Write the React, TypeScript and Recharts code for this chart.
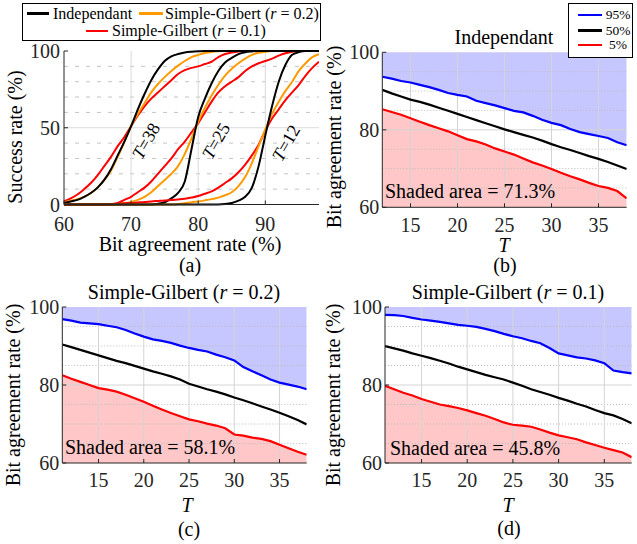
import React from "react";
import {
  ComposedChart,
  Line,
  Area,
  XAxis,
  YAxis,
  ReferenceLine,
} from "recharts";

const FONT = '"Liberation Serif", "DejaVu Serif", serif';
const INK = "#262626";
const BLUE = "#0000ff";
const RED = "#ff0000";
const ORANGE = "#ff9a00";

// ---- (a) success rate vs bit agreement rate ----
const rateX = [
  60, 61, 62, 63, 64, 65, 66, 67, 68, 69, 70, 71, 72, 73, 74, 75, 76, 77, 78, 79,
  80, 81, 82, 83, 84, 85, 86, 87, 88, 89, 90, 91, 92, 93, 94, 95, 96, 97, 98,
];
// T = 38
const ind38 = [1, 2, 3, 5, 7.5, 11, 16, 23, 32, 41, 51, 62, 72, 81, 88, 93.5, 96.5, 98, 99, 99.5, 99.8, 100, 100, 100, 100, 100, 100, 100, 100, 100, 100, 100, 100, 100, 100, 100, 100, 100, 100];
const sg2_38 = [1.5, 2.5, 3.5, 5, 7.5, 11, 16, 22, 31, 41, 51, 59, 66, 73, 78.5, 83, 87, 90.5, 93.5, 96, 97.5, 98.7, 99.4, 99.8, 100, 100, 100, 100, 100, 100, 100, 100, 100, 100, 100, 100, 100, 100, 100];
const sg1_38 = [2, 4, 6.5, 10, 14, 19, 25, 31, 38, 44, 51, 58, 64, 69, 73, 77, 81, 85, 87.5, 89, 90, 91.5, 93, 96, 98, 99, 99.7, 100, 100, 100, 100, 100, 100, 100, 100, 100, 100, 100, 100];
// T = 25
const ind25 = [0, 0, 0, 0, 0, 0, 0, 0, 0, 0, 0, 0, 0, 0, 0.5, 1.5, 4, 7.5, 15, 36, 57, 69, 79, 87, 92.5, 95.5, 98, 99.2, 99.7, 100, 100, 100, 100, 100, 100, 100, 100, 100, 100];
const sg2_25 = [0, 0, 0, 0, 0, 0, 0, 0, 0.3, 0.8, 1.7, 3, 5, 8, 12, 16, 20, 25, 33, 43, 54, 63, 71, 78, 84, 88.5, 92, 95, 97.5, 98.8, 99.5, 100, 100, 100, 100, 100, 100, 100, 100];
const sg1_25 = [0, 0, 0, 0, 0, 0, 0, 0.3, 1, 3, 5, 8, 11, 15, 20, 25, 30, 36, 41, 47, 53, 60, 67, 73, 77, 80, 83, 87, 90, 92, 93.5, 95, 97, 98.5, 99.5, 100, 100, 100, 100];
// T = 12
const ind12 = [0, 0, 0, 0, 0, 0, 0, 0, 0, 0, 0, 0, 0, 0, 0, 0, 0, 0, 0, 0, 0, 0, 0, 0, 0.3, 1, 2.5, 5, 11, 25, 45, 64, 80, 91, 97.5, 99.3, 100, 100, 100];
const sg2_12 = [0, 0, 0, 0, 0, 0, 0, 0, 0, 0, 0, 0, 0, 0, 0, 0, 0, 0.3, 0.8, 1.5, 2, 2.7, 3.5, 4.5, 6, 8, 12, 18, 27, 38, 49, 59, 67, 74, 80, 87, 92, 96, 98];
const sg1_12 = [0, 0, 0, 0, 0, 0, 0, 0, 0.5, 0.8, 1, 1.3, 1.6, 2, 2.3, 2.6, 3, 3.3, 3.7, 4.5, 5.5, 7, 8.5, 11, 14, 17, 21, 26, 32, 39, 48, 56, 62, 68, 73, 78, 84, 89, 93];

// ---- (b) Independant, T = 12..38 ----
const indT = [12, 13, 14, 15, 16, 17, 18, 19, 20, 21, 22, 23, 24, 25, 26, 27, 28, 29, 30, 31, 32, 33, 34, 35, 36, 37, 38];
const indP95 = [93.7, 93.2, 92.6, 92.2, 91.6, 91.0, 90.3, 89.5, 89.0, 88.6, 87.5, 86.9, 86.3, 85.6, 84.9, 84.5, 83.6, 82.6, 81.8, 81.2, 80.2, 79.4, 78.9, 78.4, 77.9, 76.8, 76.0];
const indP50 = [90.3, 89.4, 88.6, 87.8, 87.2, 86.5, 85.7, 84.9, 84.1, 83.3, 82.5, 81.7, 80.9, 80.1, 79.4, 78.7, 78.0, 77.2, 76.3, 75.5, 74.8, 74.0, 73.2, 72.5, 71.7, 70.8, 69.9];
const indP5 = [85.3, 84.6, 83.9, 83.0, 82.1, 81.2, 80.4, 79.6, 78.6, 77.6, 77.0, 76.2, 75.2, 74.4, 73.6, 72.6, 71.6, 70.8, 69.9, 68.9, 68.0, 67.2, 66.3, 65.5, 65.0, 64.2, 62.3];

// ---- (c), (d) Simple-Gilbert, T = 11..38 ----
const sgT = [11, 12, 13, 14, 15, 16, 17, 18, 19, 20, 21, 22, 23, 24, 25, 26, 27, 28, 29, 30, 31, 32, 33, 34, 35, 36, 37, 38];
const sg2P95 = [96.9, 96.5, 96.0, 95.8, 95.6, 95.2, 94.8, 94.1, 93.2, 92.4, 91.7, 91.3, 90.8, 90.1, 89.5, 89.0, 88.6, 87.8, 87.1, 86.3, 84.6, 83.5, 82.5, 81.4, 80.6, 80.1, 79.6, 78.9];
const sg2P50 = [90.4, 89.7, 89.0, 88.3, 87.6, 86.9, 86.2, 85.6, 84.9, 84.2, 83.5, 82.9, 82.2, 81.4, 80.3, 79.6, 78.9, 78.3, 77.6, 76.8, 76.1, 75.3, 74.5, 73.7, 72.9, 72.0, 71.0, 69.9];
const sg2P5 = [82.5, 81.6, 80.8, 80.0, 79.2, 78.8, 78.3, 77.5, 76.6, 75.7, 74.7, 73.7, 72.8, 72.0, 71.2, 70.7, 70.1, 69.6, 68.9, 67.3, 67.0, 66.5, 66.2, 65.6, 64.7, 63.8, 62.9, 62.1];
const sg1P95 = [98.0, 97.9, 97.7, 97.2, 96.8, 96.5, 96.2, 95.8, 95.4, 95.2, 94.9, 94.4, 93.8, 93.1, 92.5, 92.0, 91.3, 90.7, 89.5, 88.1, 87.6, 87.1, 86.8, 86.3, 85.6, 83.7, 83.3, 83.0];
const sg1P50 = [90.0, 89.4, 88.8, 88.1, 87.5, 86.9, 86.2, 85.5, 84.7, 84.0, 83.3, 82.6, 82.0, 81.4, 80.6, 79.8, 78.9, 78.2, 77.5, 76.7, 76.0, 75.2, 74.5, 73.6, 72.8, 72.2, 71.3, 70.2];
const sg1P5 = [79.8, 78.9, 78.0, 77.3, 76.4, 75.7, 75.0, 74.6, 74.1, 73.5, 72.8, 72.1, 71.3, 70.4, 69.8, 69.6, 69.3, 68.6, 67.8, 67.1, 66.6, 66.1, 65.3, 64.6, 63.9, 63.3, 62.7, 61.5];

const tickStyle = { fontSize: 20, fill: INK, fontFamily: FONT };

// simple absolutely placed text, centred on (x, y) unless align="left"
function Txt({ x, y, size = 20, rotate = 0, align = "center", children }: any) {
  const tx = align === "left" ? "0" : "-50%";
  return (
    <div
      style={{
        position: "absolute",
        left: x,
        top: y,
        transform: `translate(${tx}, -50%) rotate(${rotate}deg)`,
        fontFamily: FONT,
        fontSize: size,
        color: "#000",
        whiteSpace: "nowrap",
        lineHeight: 1,
      }}
    >
      {children}
    </div>
  );
}

function Swatch({ x, y, w, color }: any) {
  return (
    <div
      style={{
        position: "absolute",
        left: x,
        top: y - 1.25,
        width: w,
        height: 2.5,
        background: color,
      }}
    />
  );
}

function SuccessPanel() {
  const data = rateX.map((x, i) => ({
    x,
    ind38: ind38[i],
    sg2_38: sg2_38[i],
    sg1_38: sg1_38[i],
    ind25: ind25[i],
    sg2_25: sg2_25[i],
    sg1_25: sg1_25[i],
    ind12: ind12[i],
    sg2_12: sg2_12[i],
    sg1_12: sg1_12[i],
  }));
  const series = [
    ["sg1_38", RED], ["sg2_38", ORANGE], ["ind38", "#000"],
    ["sg1_25", RED], ["sg2_25", ORANGE], ["ind25", "#000"],
    ["sg1_12", RED], ["sg2_12", ORANGE], ["ind12", "#000"],
  ];
  return (
    <div style={{ position: "absolute", left: 0, top: 0 }}>
      <ComposedChart
        width={330}
        height={260}
        data={data}
        margin={{ top: 51, right: 11, left: 0, bottom: 25.5 }}
      >
        <XAxis
          dataKey="x"
          type="number"
          domain={[60, 98]}
          ticks={[60, 70, 80, 90]}
          height={30}
          tick={tickStyle}
          tickSize={-4}
          tickMargin={16}
          stroke={INK}
          allowDataOverflow
        />
        <XAxis
          xAxisId="top"
          orientation="top"
          type="number"
          domain={[60, 98]}
          ticks={[60, 70, 80, 90]}
          height={0}
          tickSize={-4}
          tickFormatter={() => ""}
          stroke={INK}
          allowDataOverflow
        />
        <YAxis
          type="number"
          domain={[0, 100]}
          ticks={[0, 50, 100]}
          width={64}
          tick={tickStyle}
          tickSize={-4}
          tickMargin={8}
          stroke={INK}
        />
        <YAxis
          yAxisId="right"
          orientation="right"
          type="number"
          domain={[0, 100]}
          ticks={[0, 50, 100]}
          width={0}
          tickSize={-4}
          tickFormatter={() => ""}
          stroke={INK}
        />
        {[10, 20, 30, 40, 60, 70, 80, 90].map((v) => (
          <ReferenceLine key={"m" + v} y={v} stroke="#c4c4c4" strokeDasharray="4 7" />
        ))}
        {[70, 80, 90].map((v) => (
          <ReferenceLine key={"x" + v} x={v} stroke="#dadada" />
        ))}
        <ReferenceLine y={50} stroke="#dadada" />
        {series.map(([key, color]) => (
          <Line
            key={key}
            dataKey={key}
            type="monotone"
            stroke={color}
            strokeWidth={2}
            dot={false}
            activeDot={false}
            isAnimationActive={false}
          />
        ))}
      </ComposedChart>
    </div>
  );
}

function PercentilePanel({ left, top, width, height, margin, yWidth, T, p95, p50, p5, xMin }: any) {
  const data = T.map((t: number, i: number) => ({ T: t, p95: p95[i], p50: p50[i], p5: p5[i] }));
  const xTicks = [15, 20, 25, 30, 35];
  return (
    <div style={{ position: "absolute", left, top }}>
      <ComposedChart width={width} height={height} data={data} margin={margin}>
        <XAxis
          dataKey="T"
          type="number"
          domain={[xMin, 38]}
          ticks={xTicks}
          height={30}
          tick={tickStyle}
          tickSize={-4}
          tickMargin={14}
          stroke={INK}
          allowDataOverflow
        />
        <XAxis
          xAxisId="top"
          orientation="top"
          type="number"
          domain={[xMin, 38]}
          ticks={xTicks}
          height={0}
          tickSize={-4}
          tickFormatter={() => ""}
          stroke={INK}
          allowDataOverflow
        />
        <YAxis
          type="number"
          domain={[60, 100]}
          ticks={[60, 80, 100]}
          width={yWidth}
          tick={tickStyle}
          tickSize={-4}
          tickMargin={7}
          stroke={INK}
        />
        <YAxis
          yAxisId="right"
          orientation="right"
          type="number"
          domain={[60, 100]}
          ticks={[60, 80, 100]}
          width={0}
          tickSize={-4}
          tickFormatter={() => ""}
          stroke={INK}
        />
        <Area
          dataKey={(d: any) => [d.p95, 100]}
          type="linear"
          stroke="none"
          fill={BLUE}
          fillOpacity={0.22}
          isAnimationActive={false}
        />
        <Area
          dataKey={(d: any) => [60, d.p5]}
          type="linear"
          stroke="none"
          fill={RED}
          fillOpacity={0.22}
          isAnimationActive={false}
        />
        {[65, 70, 75, 85, 90, 95].map((v) => (
          <ReferenceLine key={"m" + v} y={v} stroke="#bcbcbc" strokeDasharray="1 2" />
        ))}
        {xTicks.map((v) => (
          <ReferenceLine key={"x" + v} x={v} stroke="#d4d4d4" />
        ))}
        <ReferenceLine y={80} stroke="#d4d4d4" />
        <Line dataKey="p95" type="linear" stroke={BLUE} strokeWidth={2.2} dot={false} activeDot={false} isAnimationActive={false} />
        <Line dataKey="p50" type="linear" stroke="#000" strokeWidth={2.2} dot={false} activeDot={false} isAnimationActive={false} />
        <Line dataKey="p5" type="linear" stroke={RED} strokeWidth={2.2} dot={false} activeDot={false} isAnimationActive={false} />
      </ComposedChart>
    </div>
  );
}

export default function App() {
  return (
    <div
      style={{
        position: "absolute",
        left: 0,
        top: 0,
        width: 637,
        height: 544,
        background: "#fff",
        overflow: "hidden",
        fontFamily: FONT,
      }}
    >
      <SuccessPanel />
      <PercentilePanel
        left={320}
        top={0}
        width={317}
        height={260}
        margin={{ top: 52.3, right: 10.3, left: 0, bottom: 22.7 }}
        yWidth={62.3}
        T={indT}
        p95={indP95}
        p50={indP50}
        p5={indP5}
        xMin={12}
      />
      <PercentilePanel
        left={0}
        top={270}
        width={320}
        height={274}
        margin={{ top: 37, right: 13.3, left: 0, bottom: 51 }}
        yWidth={62.3}
        T={sgT}
        p95={sg2P95}
        p50={sg2P50}
        p5={sg2P5}
        xMin={11}
      />
      <PercentilePanel
        left={320}
        top={270}
        width={317}
        height={274}
        margin={{ top: 37, right: 5.3, left: 0, bottom: 51 }}
        yWidth={65}
        T={sgT}
        p95={sg1P95}
        p50={sg1P50}
        p5={sg1P5}
        xMin={11}
      />

      {/* (a) annotations */}
      <Txt x={146} y={141} size={18} rotate={-60}><i>T</i>=38</Txt>
      <Txt x={216} y={141} size={18} rotate={-60}><i>T</i>=25</Txt>
      <Txt x={286} y={143} size={18} rotate={-60}><i>T</i>=12</Txt>
      <Txt x={15} y={137} rotate={-90}>Success rate (%)</Txt>
      <Txt x={190} y={244}>Bit agreement rate (%)</Txt>
      <Txt x={190} y={265}>(a)</Txt>

      {/* (a) legend */}
      <div style={{ position: "absolute", left: 22, top: 3, width: 297, height: 36, border: "1px solid #000", background: "#fff" }} />
      <Swatch x={27} y={13.5} w={22} color="#000" />
      <Txt x={53} y={13.5} size={16} align="left">Independant</Txt>
      <Swatch x={139} y={13.5} w={24} color={ORANGE} />
      <Txt x={165} y={13.5} size={16} align="left">Simple-Gilbert (<i>r</i> = 0.2)</Txt>
      <Swatch x={86} y={31} w={22} color={RED} />
      <Txt x={112} y={31} size={16} align="left">Simple-Gilbert (<i>r</i> = 0.1)</Txt>

      {/* (b) */}
      <Txt x={504} y={37}>Independant</Txt>
      <Txt x={334} y={137} rotate={-90}>Bit agreement rate (%)</Txt>
      <Txt x={385} y={191} align="left">Shaded area = 71.3%</Txt>
      <Txt x={504} y={245}><i>T</i></Txt>
      <Txt x={505} y={265}>(b)</Txt>
      <div style={{ position: "absolute", left: 568, top: 3, width: 63, height: 53, border: "1px solid #000", background: "#fff" }} />
      <Swatch x={578} y={15} w={24} color={BLUE} />
      <Txt x={618} y={15} size={13.5}>95%</Txt>
      <Swatch x={578} y={30.5} w={24} color="#000" />
      <Txt x={618} y={30.5} size={13.5}>50%</Txt>
      <Swatch x={578} y={45} w={24} color={RED} />
      <Txt x={618} y={45} size={13.5}>5%</Txt>

      {/* (c) */}
      <Txt x={184} y={292}>Simple-Gilbert (<i>r</i> = 0.2)</Txt>
      <Txt x={13} y={395} rotate={-90}>Bit agreement rate (%)</Txt>
      <Txt x={65} y={447} align="left">Shaded area = 58.1%</Txt>
      <Txt x={187} y={505}><i>T</i></Txt>
      <Txt x={189} y={529}>(c)</Txt>

      {/* (d) */}
      <Txt x={508} y={292}>Simple-Gilbert (<i>r</i> = 0.1)</Txt>
      <Txt x={333} y={395} rotate={-90}>Bit agreement rate (%)</Txt>
      <Txt x={390} y={448} align="left">Shaded area = 45.8%</Txt>
      <Txt x={508} y={505}><i>T</i></Txt>
      <Txt x={509} y={528}>(d)</Txt>
    </div>
  );
}
